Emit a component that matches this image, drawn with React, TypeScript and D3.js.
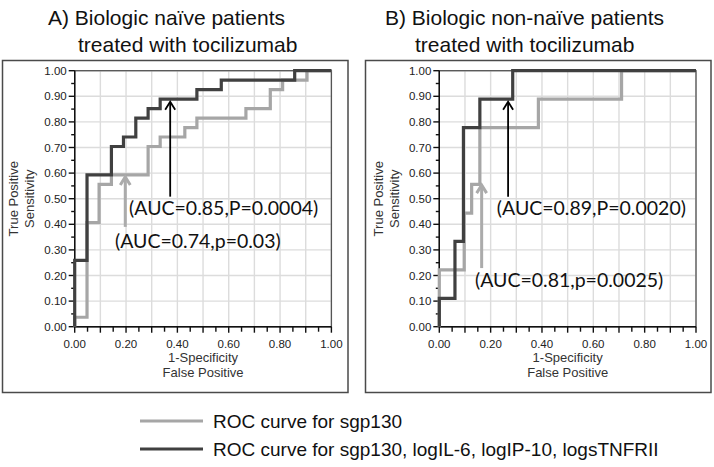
import React from "react";
import * as d3 from "d3";

// ROC corner points (step after): false-positive rate / true-positive rate
const naiveSgpFpr = [0, 0, 0.048, 0.095, 0.143, 0.286, 0.333, 0.429, 0.476, 0.667, 0.762, 0.81, 0.905, 1];
const naiveSgpTpr = [0, 0.037, 0.407, 0.556, 0.593, 0.704, 0.741, 0.778, 0.815, 0.852, 0.926, 0.963, 1, 1];
const naiveComboFpr = [0, 0, 0.048, 0.143, 0.19, 0.238, 0.286, 0.333, 0.476, 0.571, 0.857, 1];
const naiveComboTpr = [0, 0.259, 0.593, 0.704, 0.741, 0.815, 0.852, 0.889, 0.926, 0.963, 1, 1];
const nonNaiveSgpFpr = [0, 0, 0.097, 0.126, 0.158, 0.386, 0.71, 1];
const nonNaiveSgpTpr = [0, 0.222, 0.444, 0.556, 0.778, 0.889, 1, 1];
const nonNaiveComboFpr = [0, 0, 0.061, 0.094, 0.158, 0.286, 1];
const nonNaiveComboTpr = [0, 0.111, 0.333, 0.778, 0.889, 1, 1];

const panelTitles = [
  ["A)  Biologic naïve patients", "treated with tocilizumab"],
  ["B)  Biologic non-naïve patients", "treated with tocilizumab"],
];
const sgpAucLabels = ["(AUC=0.74,p=0.03)", "(AUC=0.81,p=0.0025)"];
const comboAucLabels = ["(AUC=0.85,P=0.0004)", "(AUC=0.89,P=0.0020)"];
const yAxisTitle = ["True Positive", "Sensitivity"];
const xAxisTitle = ["1-Specificity", "False Positive"];
const legendLabels = ["ROC curve for sgp130", "ROC curve for sgp130, logIL-6, logIP-10, logsTNFRII"];

const GRAY = "#a6a6a6";
const DARK = "#404040";
const SANS = "Liberation Sans, Arial, sans-serif";
const AUC_FONT = "Lato, sans-serif";

type PanelProps = {
  idx: number;
  left: number;
  boxX: number;
  titleX: [number, number];
  sgp: { fpr: number[]; tpr: number[] };
  combo: { fpr: number[]; tpr: number[] };
  sgpArrow: { x: number; y0: number; y1: number };
  comboArrow: { x: number; y0: number; y1: number };
  sgpLabel: { x: number; y: number };
  comboLabel: { x: number; y: number };
};

function Arrow({ x, y0, y1, color, width, hw, hh }: any) {
  return (
    <g fill="none" stroke={color} strokeWidth={width}>
      <line x1={x} x2={x} y1={y0} y2={y1 + 1} />
      <polyline points={`${x - hw},${y1 + hh} ${x},${y1} ${x + hw},${y1 + hh}`} strokeLinejoin="miter" />
    </g>
  );
}

function Panel(p: PanelProps) {
  const W = 256.7;
  const top = 70.7;
  const bottom = 326.7;
  const x = d3.scaleLinear().domain([0, 1]).range([p.left, p.left + W]);
  const y = d3.scaleLinear().domain([0, 1]).range([bottom, top]);
  const line = d3
    .line<[number, number]>()
    .x((d) => x(d[0]))
    .y((d) => y(d[1]))
    .curve(d3.curveStepAfter);
  const pts = (fpr: number[], tpr: number[]) => fpr.map((f, i) => [f, tpr[i]] as [number, number]);
  const grid = x.ticks(10);
  const minor = x.ticks(20);
  const fmt = d3.format(".2f");
  const cx = p.left + W / 2;
  const cy = (top + bottom) / 2;
  return (
    <g>
      <rect x={p.boxX} y={60.5} width={345.5} height={332} fill="none" stroke="#4a4a4a" strokeWidth={1.5} />
      <text x={p.titleX[0]} y={25} fontFamily={SANS} fontSize={21} fill="#111">{panelTitles[p.idx][0]}</text>
      <text x={p.titleX[1]} y={52} fontFamily={SANS} fontSize={21} fill="#111">{panelTitles[p.idx][1]}</text>
      {/* grid */}
      <g stroke="#dcdcdc" strokeWidth={1.4}>
        {grid.map((t) => (
          <line key={"gx" + t} x1={x(t)} x2={x(t)} y1={top} y2={bottom} />
        ))}
        {grid.map((t) => (
          <line key={"gy" + t} x1={p.left} x2={p.left + W} y1={y(t)} y2={y(t)} />
        ))}
      </g>
      <rect x={p.left} y={top} width={W} height={bottom - top} fill="none" stroke="#555" strokeWidth={1.3} />
      {/* axes */}
      <g stroke="#111" strokeWidth={1.4}>
        <line x1={p.left} x2={p.left} y1={top} y2={bottom} />
        <line x1={p.left} x2={p.left + W} y1={bottom} y2={bottom} />
        {minor.map((t, i) => (
          <line key={"tx" + t} x1={x(t)} x2={x(t)} y1={bottom} y2={bottom + (i % 2 === 0 ? 6 : 5)} />
        ))}
        {minor.map((t, i) => (
          <line key={"ty" + t} x1={p.left - (i % 2 === 0 ? 6 : 3.5)} x2={p.left} y1={y(t)} y2={y(t)} />
        ))}
      </g>
      <g fontFamily={SANS} fontSize={11.5} fill="#222">
        {y.ticks(10).map((t) => (
          <text key={"ly" + t} x={p.left - 8} y={y(t)} dy="0.35em" textAnchor="end">{fmt(t)}</text>
        ))}
        {x.ticks(5).map((t) => (
          <text key={"lx" + t} x={x(t)} y={bottom + 17} dy="0.35em" textAnchor="middle">{fmt(t)}</text>
        ))}
      </g>
      <g fontFamily={SANS} fontSize={13} fill="#333" textAnchor="middle">
        <text x={cx} y={bottom + 31} dy="0.35em">{xAxisTitle[0]}</text>
        <text x={cx} y={bottom + 46} dy="0.35em">{xAxisTitle[1]}</text>
        <text transform={`translate(${p.left - 61},${cy}) rotate(-90)`} dy="0.35em">{yAxisTitle[0]}</text>
        <text transform={`translate(${p.left - 45},${cy}) rotate(-90)`} dy="0.35em">{yAxisTitle[1]}</text>
      </g>
      {/* curves */}
      <path d={line(pts(p.sgp.fpr, p.sgp.tpr)) || ""} fill="none" stroke={GRAY} strokeWidth={3.2} />
      <path d={line(pts(p.combo.fpr, p.combo.tpr)) || ""} fill="none" stroke={DARK} strokeWidth={3.2} />
      {/* arrows */}
      <Arrow x={x(p.sgpArrow.x)} y0={y(p.sgpArrow.y0)} y1={y(p.sgpArrow.y1)} color="#ababab" width={3} hw={5} hh={8} />
      <Arrow x={x(p.comboArrow.x)} y0={y(p.comboArrow.y0)} y1={y(p.comboArrow.y1)} color="#000" width={1.8} hw={5} hh={8} />
      <g fontFamily={AUC_FONT} fontSize={19.5} fill="#111">
        <text x={x(p.comboLabel.x)} y={y(p.comboLabel.y)} dy="0.35em">{comboAucLabels[p.idx]}</text>
        <text x={x(p.sgpLabel.x)} y={y(p.sgpLabel.y)} dy="0.35em">{sgpAucLabels[p.idx]}</text>
      </g>
    </g>
  );
}

export default function App() {
  return (
    <svg width={714} height={467} style={{ position: "absolute", left: 0, top: 0, background: "#fff" }}>
      <rect width={714} height={467} fill="#fff" />
      <Panel
        idx={0}
        left={74.7}
        boxX={2.5}
        titleX={[48, 78]}
        sgp={{ fpr: naiveSgpFpr, tpr: naiveSgpTpr }}
        combo={{ fpr: naiveComboFpr, tpr: naiveComboTpr }}
        sgpArrow={{ x: 0.197, y0: 0.39, y1: 0.585 }}
        comboArrow={{ x: 0.372, y0: 0.508, y1: 0.879 }}
        sgpLabel={{ x: 0.157, y: 0.335 }}
        comboLabel={{ x: 0.212, y: 0.464 }}
      />
      <Panel
        idx={1}
        left={439.3}
        boxX={365.5}
        titleX={[385, 415]}
        sgp={{ fpr: nonNaiveSgpFpr, tpr: nonNaiveSgpTpr }}
        combo={{ fpr: nonNaiveComboFpr, tpr: nonNaiveComboTpr }}
        sgpArrow={{ x: 0.165, y0: 0.229, y1: 0.553 }}
        comboArrow={{ x: 0.268, y0: 0.508, y1: 0.879 }}
        sgpLabel={{ x: 0.139, y: 0.182 }}
        comboLabel={{ x: 0.224, y: 0.464 }}
      />
      {/* legend */}
      <g fontFamily={SANS} fontSize={19} fill="#111">
        <line x1={140} x2={203} y1={421} y2={421} stroke={GRAY} strokeWidth={3.2} />
        <text x={213} y={421} dy="0.35em">{legendLabels[0]}</text>
        <line x1={140} x2={203} y1={449} y2={449} stroke={DARK} strokeWidth={3.2} />
        <text x={213} y={449} dy="0.35em">{legendLabels[1]}</text>
      </g>
    </svg>
  );
}
